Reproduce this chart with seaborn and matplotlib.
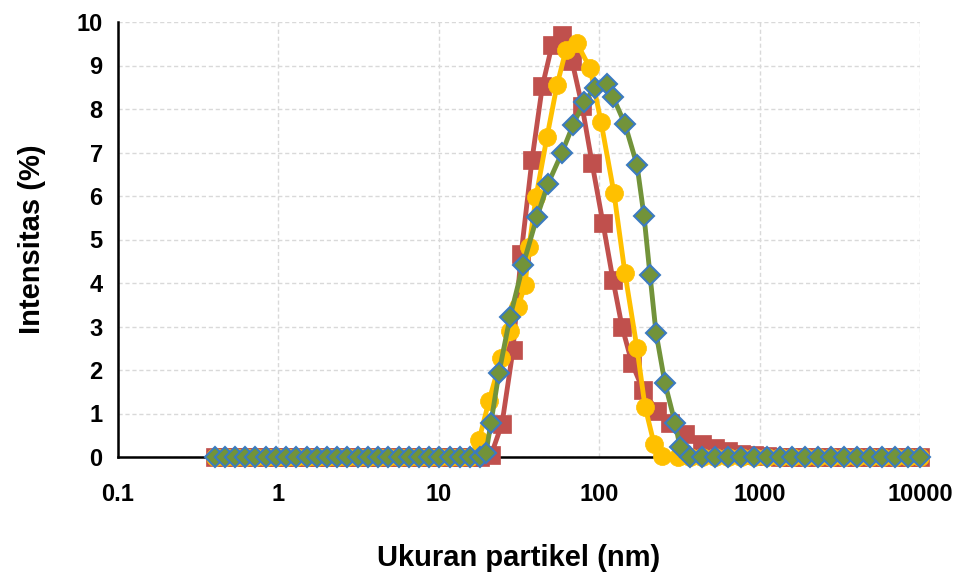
import matplotlib
matplotlib.use("Agg")
import pandas as pd
import matplotlib.pyplot as plt
import seaborn as sns
from matplotlib.ticker import FixedLocator, FixedFormatter, MultipleLocator, LogLocator, NullFormatter

# size bins shared by the flat (zero) parts of all three curves, in nm
left_tail_nm = [0.4, 0.4632, 0.5365, 0.6213, 0.7195, 0.8332, 0.9649, 1.117, 1.294,
                1.499, 1.736, 2.01, 2.328, 2.696, 3.122, 3.615, 4.187, 4.849, 5.615,
                6.503, 7.531, 8.721, 10.1, 11.7, 13.54, 15.69]
right_tail_nm = [368, 437, 527, 635, 766, 923, 1112, 1340, 1592, 1919, 2313, 2787,
                 3359, 4048, 4880, 5797, 6986, 8420, 10000]

# red squares
red_peak_nm = [18.1, 21.2, 24.8, 29.0, 32.6, 38.1, 44.2, 50.8, 58.6, 67.7, 78.1, 90.2,
               105.6, 121.9, 138.7, 160.2, 187.6, 229.3, 276.3, 342.7]
red_peak_int = [0.0, 0.05, 0.77, 2.46, 4.66, 6.83, 8.52, 9.47, 9.70, 9.10, 8.08, 6.76,
                5.37, 4.07, 3.00, 2.15, 1.54, 1.06, 0.78, 0.52]
red_tail_int = [0.30, 0.20, 0.13, 0.08, 0.05, 0.03, 0.01, 0.0, 0.0, 0.0, 0.0, 0.0,
                0.0, 0.0, 0.0, 0.0, 0.0, 0.0]

# yellow circles
yellow_peak_nm = [17.8, 20.56, 24.42, 27.79, 31.17, 34.47, 36.5, 40.36, 47.27, 54.57,
                  62.09, 72.71, 87.62, 102.6, 123.7, 144.8, 172.1, 193.0, 219.6, 246.4, 309.9]
yellow_peak_int = [0.39, 1.29, 2.27, 2.90, 3.45, 3.95, 4.82, 5.98, 7.36, 8.55,
                   9.36, 9.51, 8.94, 7.71, 6.06, 4.22, 2.50, 1.16, 0.31, 0.03, 0.0]

# green diamonds
green_peak_nm = [18.07, 19.7, 21.15, 23.73, 27.79, 33.5, 40.94, 47.96, 58.64, 68.67,
                 80.41, 94.15, 111.8, 121.9, 144.8, 172.1, 190.3, 207.4, 226.0, 257.2,
                 296.9, 318.9]
green_peak_int = [0.0, 0.10, 0.79, 1.94, 3.21, 4.41, 5.52, 6.28, 7.00, 7.63,
                  8.17, 8.48, 8.57, 8.28, 7.65, 6.71, 5.54, 4.18, 2.86, 1.69,
                  0.79, 0.24]

x_ticks = [0.1, 1, 10, 100, 1000, 10000]
x_tick_labels = ["0.1", "1", "10", "100", "1000", "10000"]
y_ticks = list(range(0, 11))

left_zero = [0.0] * len(left_tail_nm)
right_zero = [0.0] * len(right_tail_nm)

red = pd.DataFrame({"size": left_tail_nm + red_peak_nm + right_tail_nm[1:],
                    "intensity": left_zero + red_peak_int + red_tail_int})
yellow = pd.DataFrame({"size": left_tail_nm + yellow_peak_nm + right_tail_nm,
                       "intensity": left_zero + yellow_peak_int + right_zero})
green = pd.DataFrame({"size": left_tail_nm + green_peak_nm + right_tail_nm,
                      "intensity": left_zero + green_peak_int + right_zero})

sns.set_style("white")
plt.rcParams["font.family"] = ["Liberation Sans Narrow", "Liberation Sans", "DejaVu Sans"]
plt.rcParams["font.weight"] = "bold"
plt.rcParams["text.color"] = "black"
plt.rcParams["axes.labelcolor"] = "black"

fig = plt.figure(figsize=(9.57, 5.76), dpi=100)
ax = fig.add_axes([118 / 957, 119 / 576, 802 / 957, 435 / 576])

sns.lineplot(data=red, x="size", y="intensity", ax=ax, estimator=None, sort=False,
             color="#C0504D", linewidth=3.5, marker="s", markersize=12.5,
             markeredgecolor="#C0504D", markeredgewidth=0.5, clip_on=False, zorder=3)
sns.lineplot(data=yellow, x="size", y="intensity", ax=ax, estimator=None, sort=False,
             color="#FFC000", linewidth=3.5, marker="o", markersize=13,
             markeredgecolor="#FFC000", markeredgewidth=0.5, clip_on=False, zorder=4)
sns.lineplot(data=green, x="size", y="intensity", ax=ax, estimator=None, sort=False,
             color="#72933A", linewidth=3.5, marker="D", markersize=10,
             markeredgecolor="#3B7BC0", markeredgewidth=1.5, clip_on=False, zorder=5)

ax.set_xscale("log")
ax.set_xlim(0.1, 10000)
ax.set_ylim(0, 10)

ax.xaxis.set_major_locator(FixedLocator(x_ticks))
ax.xaxis.set_major_formatter(FixedFormatter(x_tick_labels))
ax.xaxis.set_minor_locator(LogLocator(base=10, subs=range(2, 10)))
ax.xaxis.set_minor_formatter(NullFormatter())
ax.yaxis.set_major_locator(FixedLocator(y_ticks))
ax.yaxis.set_minor_locator(MultipleLocator(0.2))

ax.grid(True, which="major", color="#D9D9D9", linestyle=(0, (3, 2)), linewidth=1)
ax.set_axisbelow(True)

for side in ["top", "right"]:
    ax.spines[side].set_visible(False)
for side in ["left", "bottom"]:
    ax.spines[side].set_color("black")
    ax.spines[side].set_linewidth(1.8)

ax.tick_params(axis="both", which="major", direction="inout", length=10, width=1.8,
               color="black", labelsize=17, labelcolor="black")
ax.tick_params(axis="x", which="major", pad=14)
ax.tick_params(axis="y", which="major", pad=6)
ax.tick_params(axis="y", which="minor", direction="inout", length=5, width=1.2, color="black")
ax.tick_params(axis="x", which="minor", direction="in", length=5, width=1.2, color="black")

ax.set_xlabel("Ukuran partikel (nm)", fontsize=21, fontweight="bold")
ax.set_ylabel("Intensitas (%)", fontsize=21, fontweight="bold")
ax.xaxis.set_label_coords(0.5, -0.2)
ax.yaxis.set_label_coords(-0.09, 0.5)

fig.savefig("out.png", dpi=100)
